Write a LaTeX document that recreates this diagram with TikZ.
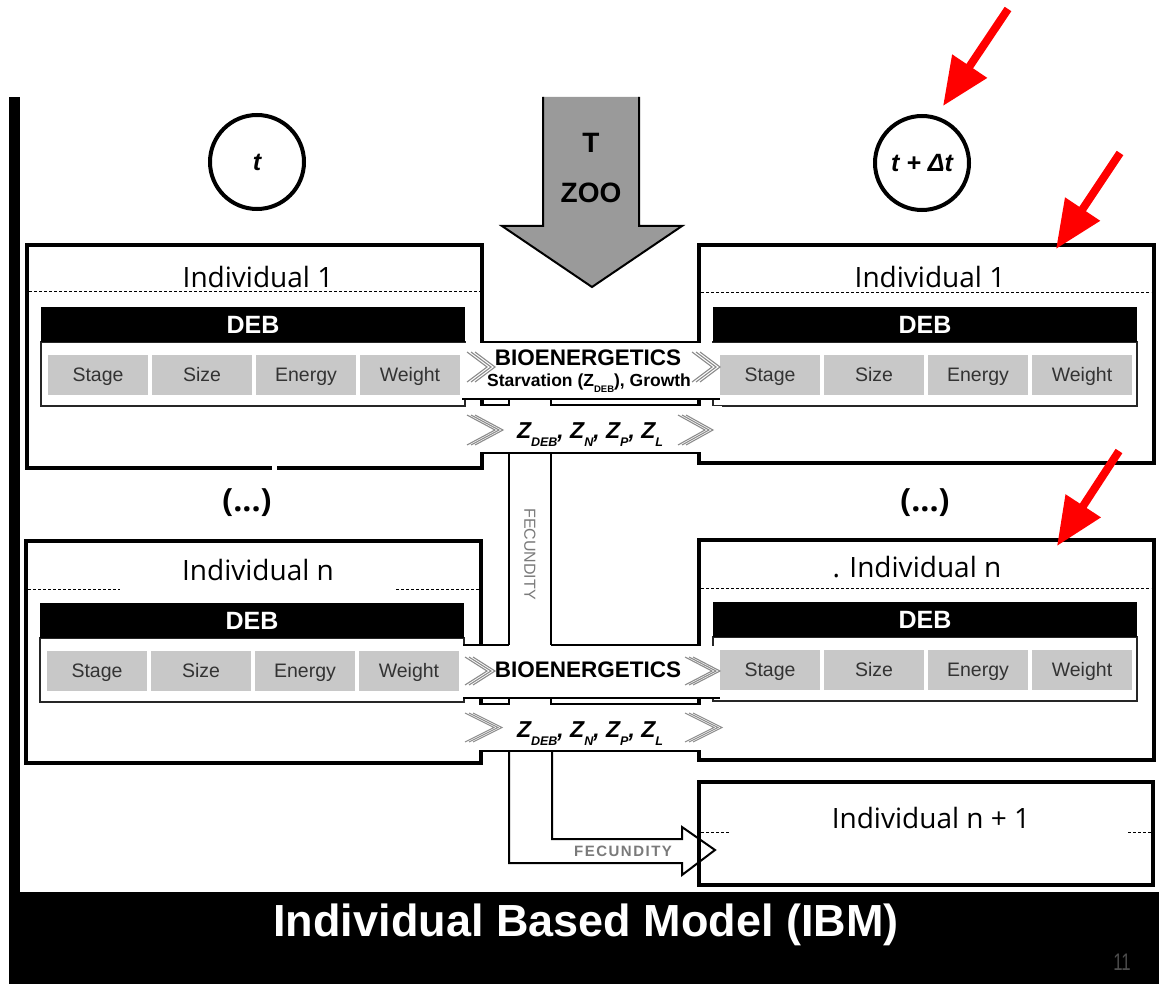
\documentclass[tikz,border=0pt]{standalone}
\usepackage{fontspec}
\setmainfont{Liberation Sans}
\newfontfamily\opensans{Open Sans}
\usetikzlibrary{arrows.meta}

\definecolor{cellgrey}{HTML}{C8C8C8}
\definecolor{arrowgrey}{HTML}{9A9A9A}
\definecolor{celltxt}{HTML}{333333}
\definecolor{chevgrey}{HTML}{8C8C8C}
\definecolor{fecgrey}{HTML}{7A7A7A}
\definecolor{markred}{HTML}{FF0000}

\newcommand\fs[1]{\fontsize{#1}{#1}\selectfont}
% lowered small text after a Z
\newcommand\zsub[2]{\raisebox{-0.35em}{\fs{#1}#2}}

% one individual: frame, DEB bar and the four state cells
% #1 name, #2 left x, #3 top y, #4 height
\newcommand\indunit[4]{%
  \draw[indbox] (#2,#3) rectangle ({#2+455},{#3+#4});
  \draw[debframe] ({#2+14},{#3+97}) rectangle ({#2+438},{#3+161});
  \fill ({#2+14},{#3+62}) rectangle ({#2+438},{#3+97});
  \node[debtext] (#1-deb) at ({#2+226},{#3+80}) {DEB};
  \foreach \lab [count=\i from 0] in {Stage,Size,Energy,Weight}{
    \fill[cellgrey] ({#2+21+\i*104},{#3+110}) rectangle ({#2+121+\i*104},{#3+150});
    \node[celltext] (#1-\lab) at ({#2+71+\i*104},{#3+136}) {\lab};
  }%
}

% triple chevron: #1 left x, #2 tip x, #3 top y, #4 bottom y
\newcommand\chev[4]{%
  \foreach \k in {0,1,2}{
    \draw[chevline] ({#1+\k*4},#3) -- ({#2-8+\k*4},{(#3+#4)/2}) -- ({#1+\k*4},#4);
  }%
}

\begin{document}
\begin{tikzpicture}[x=1pt,y=-1pt,
  indbox/.style={draw=black, line width=4, fill=white},
  debframe/.style={draw=black!85, line width=2, fill=white},
  debtext/.style={text=white, font=\bfseries\fs{25}},
  celltext/.style={text=celltxt, font=\fs{19.5}, anchor=base},
  indtitle/.style={font=\opensans\fs{28}, anchor=base},
  dashline/.style={draw=black, line width=1, dash pattern=on 3pt off 2pt},
  pipe/.style={draw=black, line width=2},
  thinpipe/.style={draw=black, line width=1.5},
  chevline/.style={draw=chevgrey, line width=1.1},
  bandtitle/.style={font=\bfseries\fs{22.5}, anchor=base},
  bandsub/.style={font=\bfseries\fs{17.5}, anchor=base},
  zline/.style={font=\bfseries\itshape\fs{23}, anchor=base},
  tcircle/.style={circle, draw=black, line width=4, minimum size=94, inner sep=0pt, font=\bfseries\itshape\fs{25}},
  redarrow/.style={draw=markred, line width=8, -{Triangle[length=48pt,width=40pt]}},
  ellip/.style={font=\opensans\bfseries\fs{32}},
]
\useasboundingbox (0,0) rectangle (1159,984);
\fill[white] (0,0) rectangle (1159,984);

% ---------- individuals ----------
\indunit{ua}{27}{245}{223}
\indunit{ub}{699}{245}{218}
\indunit{la}{26}{541}{222}
\indunit{lb}{699}{540}{220}
\draw[white, line width=6] (272,468) -- (277,468);

\node[indtitle] (ua-title) at (258,288) {Individual 1};
\node[indtitle] (ub-title) at (930,288) {Individual 1};
\node[indtitle] (la-title) at (258,580) {Individual n};
\node[indtitle] (lb-title) at (917,577) {.\,\,Individual n};

\draw[dashline] (29,292) -- (480,292);
\draw[dashline] (701,293) -- (1151,293);
\draw[dashline] (28,589) -- (120,589);
\draw[dashline] (396,589) -- (479,589);
\draw[dashline] (701,588) -- (1151,588);

\node[ellip] (dotsL) at (247,503) {(...)};
\node[ellip] (dotsR) at (925,503) {(...)};

% ---------- upper pipe ----------
\fill[white] (462,343) rectangle (720,399);
\fill[white] (478,406) rectangle (722,452);
\draw[pipe] (482,342) -- (700,342);
\draw[thinpipe] (462,399) -- (720,399);
\draw[thinpipe] (482,399) -- (482,405) -- (509,405) -- (509,399);
\draw[thinpipe] (551,399) -- (551,405) -- (700,405) -- (700,399);
\draw[pipe] (482,453) -- (700,453);

% ---------- lower pipe ----------
\fill[white] (463,646) rectangle (720,698);
\fill[white] (478,705) rectangle (722,750);
\draw[pipe] (463,645) -- (509,645);
\draw[pipe] (551,645) -- (700,645);
\draw[thinpipe] (463,698) -- (720,698);
\draw[thinpipe] (482,698) -- (482,704) -- (509,704) -- (509,698);
\draw[thinpipe] (551,698) -- (551,704) -- (700,704) -- (700,698);
\draw[pipe] (482,751) -- (700,751);

% fecundity channel between the pipes
\draw[pipe] (509,453) -- (509,645);
\draw[pipe] (551,453) -- (551,645);
\node[rotate=-90, text=fecgrey, font=\fs{16}] (fecV) at (530,554) {FECUNDITY};

% ---------- pipe labels ----------
\node[bandtitle] (bioU) at (588,365) {BIOENERGETICS};
\node[bandsub] (starv) at (589,386) {Starvation (Z\zsub{9.5}{DEB}), Growth};
\node[zline] (zU) at (590,438) {Z\zsub{12.5}{DEB}, Z\zsub{12.5}{N}, Z\zsub{12.5}{P}, Z\zsub{12.5}{L}};
\node[bandtitle] (bioL) at (588,677) {BIOENERGETICS};
\node[zline] (zL) at (590,737) {Z\zsub{12.5}{DEB}, Z\zsub{12.5}{N}, Z\zsub{12.5}{P}, Z\zsub{12.5}{L}};

\chev{467}{495}{352}{382}
\chev{692}{720}{352}{382}
\chev{467}{503}{415}{445}
\chev{678}{713}{415}{445}
\chev{465}{495}{657}{685}
\chev{685}{720}{657}{685}
\chev{465}{502}{713}{742}
\chev{685}{722}{713}{742}

% ---------- offspring ----------
\draw[pipe, fill=white] (509,752) -- (509,863) -- (682,863) -- (682,875) -- (715,850)
  -- (682,827) -- (682,839) -- (552,839) -- (552,752);
\node[text=fecgrey, font=\bfseries\fs{15}\addfontfeature{LetterSpace=10}] (fecH) at (623,851) {FECUNDITY};
\draw[line width=4] (699,782) rectangle (1153,885);
\node[indtitle] (nn-title) at (931,828) {Individual n + 1};
\draw[dashline] (701,832) -- (730,832);
\draw[dashline] (1128,832) -- (1151,832);

% ---------- forcing arrow ----------
\draw[line width=2, fill=arrowgrey] (543,97) -- (543,226) -- (502,226) -- (592,287)
  -- (682,226) -- (639,226) -- (639,97);
\node[font=\bfseries\fs{28}] (Tlab) at (591,143) {T};
\node[font=\bfseries\fs{28}] (ZOOlab) at (591,193) {ZOO};

% ---------- time steps ----------
\node[tcircle] (tnow) at (257,162) {t};
\node[tcircle] (tnext) at (922,163) {t + Δt};

% ---------- red markers ----------
\coordinate (r1a) at (1008,9);   \coordinate (r1b) at (943,106);
\coordinate (r2a) at (1120,153); \coordinate (r2b) at (1056,249);
\coordinate (r3a) at (1119,451); \coordinate (r3b) at (1057,546);
\draw[redarrow] (r1a) -- (r1b);
\draw[redarrow] (r2a) -- (r2b);
\draw[redarrow] (r3a) -- (r3b);

% ---------- frame and footer ----------
\fill[black] (9,97) rectangle (20,984);
\fill[black] (9,892) rectangle (1159,984);
\node[text=white, font=\bfseries\fs{45}] (title) at (586,925) {Individual Based Model (IBM)};
\node[text=black!70, font=\fs{24}, xscale=0.7] (pagenum) at (1122,962) {11};
\end{tikzpicture}
\end{document}
